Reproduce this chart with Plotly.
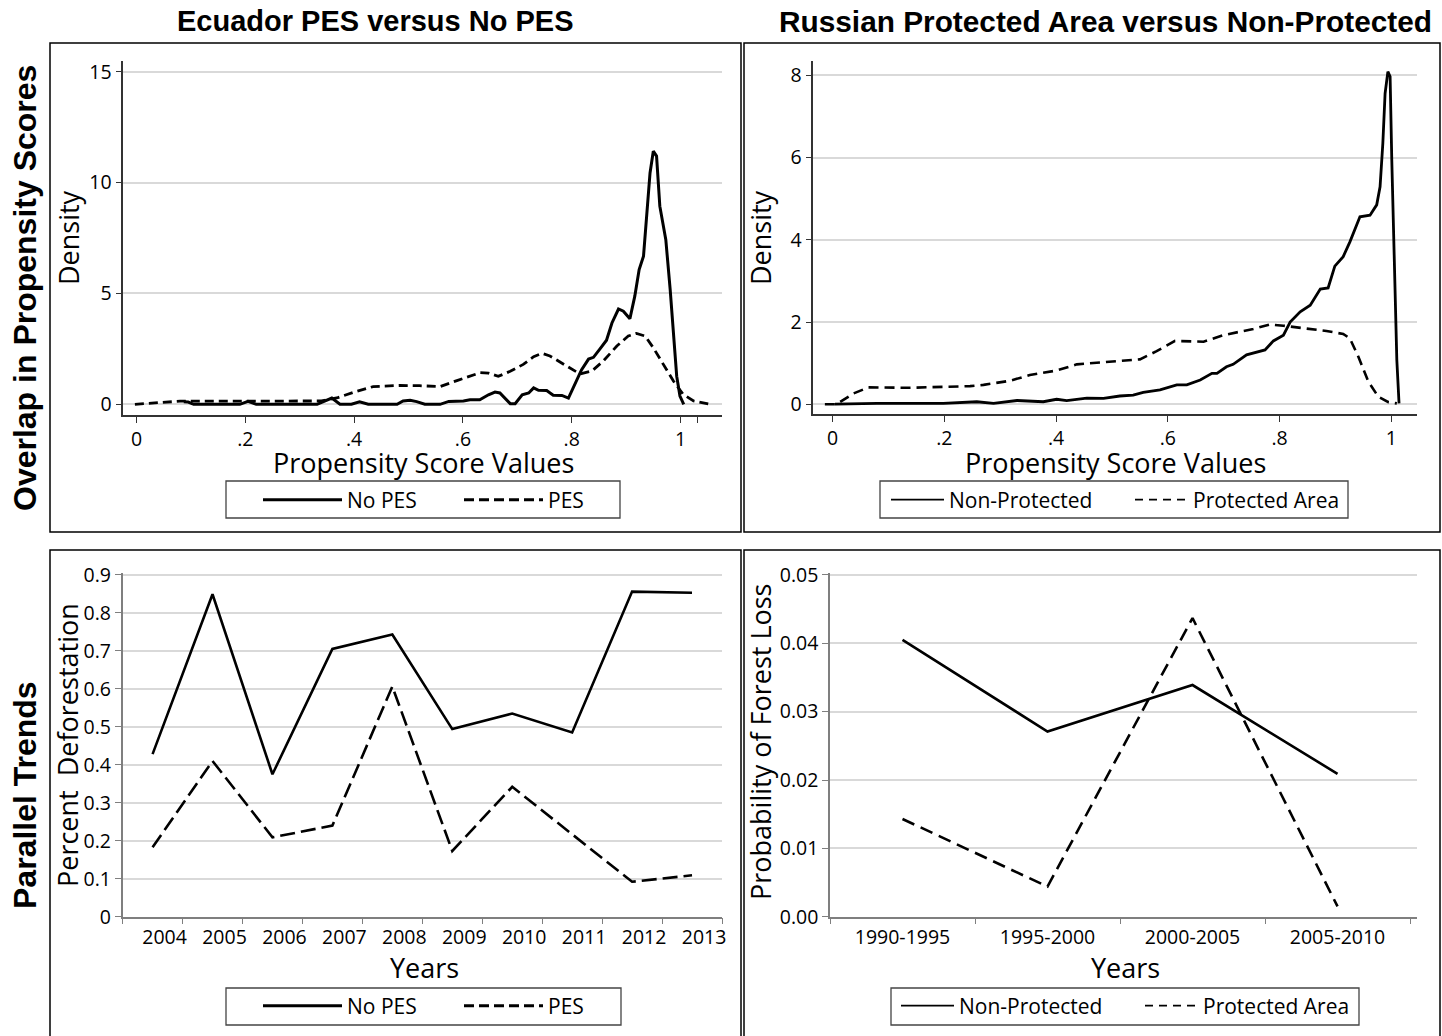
import plotly.graph_objects as go

W, H = 1442, 1036

# ---------------- Data ----------------
# Panel 1: Ecuador propensity score densities
ecu_nopes_x = [0.087, 0.095, 0.105, 0.19, 0.205, 0.22, 0.332, 0.359, 0.374, 0.395, 0.41, 0.426,
               0.479, 0.49, 0.503, 0.515, 0.530, 0.558, 0.574, 0.601, 0.613, 0.631, 0.647, 0.659,
               0.668, 0.687, 0.696, 0.709, 0.721, 0.730, 0.739, 0.754, 0.766, 0.782, 0.794, 0.806,
               0.818, 0.831, 0.840, 0.852, 0.864, 0.874, 0.886, 0.895, 0.907, 0.916, 0.924, 0.932,
               0.938, 0.944, 0.950, 0.956, 0.962, 0.973, 0.981, 0.987, 0.993, 0.999, 1.006]
ecu_nopes_y = [0.12, 0.10, 0.0, 0.0, 0.13, 0.0, 0.0, 0.28, 0.0, 0.0, 0.11, 0.0,
               0.0, 0.15, 0.18, 0.12, 0.0, 0.0, 0.13, 0.15, 0.20, 0.20, 0.43, 0.55,
               0.51, 0.03, 0.03, 0.43, 0.51, 0.74, 0.63, 0.62, 0.41, 0.40, 0.28, 0.95,
               1.55, 2.04, 2.12, 2.50, 2.89, 3.67, 4.30, 4.20, 3.86, 4.88, 6.08, 6.68,
               8.64, 10.44, 11.42, 11.20, 8.94, 7.43, 5.18, 3.07, 1.27, 0.37, 0.0]
ecu_pes_x = [-0.003, 0.04, 0.08, 0.12, 0.20, 0.25, 0.30, 0.34, 0.37, 0.40, 0.435, 0.484, 0.52,
             0.558, 0.589, 0.632, 0.647, 0.665, 0.687, 0.711, 0.730, 0.745, 0.760, 0.785, 0.815,
             0.837, 0.858, 0.883, 0.904, 0.919, 0.935, 0.950, 0.968, 0.987, 1.005, 1.024, 1.054]
ecu_pes_y = [0.0, 0.07, 0.14, 0.14, 0.15, 0.15, 0.14, 0.15, 0.30, 0.55, 0.80, 0.85, 0.84,
             0.80, 1.07, 1.43, 1.41, 1.26, 1.49, 1.80, 2.15, 2.30, 2.18, 1.80, 1.37,
             1.50, 1.95, 2.63, 3.08, 3.20, 3.08, 2.55, 1.80, 1.05, 0.45, 0.15, 0.0]

# Panel 2: Russia propensity score densities
rus_non_x = [0.004, 0.079, 0.198, 0.258, 0.288, 0.33, 0.377, 0.401, 0.419, 0.455, 0.485, 0.514,
             0.538, 0.556, 0.586, 0.616, 0.634, 0.658, 0.679, 0.688, 0.705, 0.717, 0.741, 0.759,
             0.774, 0.789, 0.807, 0.819, 0.837, 0.855, 0.873, 0.887, 0.899, 0.914, 0.926, 0.944,
             0.962, 0.974, 0.980, 0.985, 0.989, 0.994, 0.998, 1.001, 1.005, 1.010, 1.014]
rus_non_y = [0.0, 0.02, 0.02, 0.06, 0.02, 0.09, 0.06, 0.12, 0.09, 0.15, 0.14, 0.20,
             0.22, 0.29, 0.35, 0.47, 0.47, 0.59, 0.75, 0.75, 0.91, 0.97, 1.20, 1.26,
             1.32, 1.54, 1.68, 2.00, 2.25, 2.41, 2.80, 2.83, 3.36, 3.59, 3.95, 4.56,
             4.60, 4.85, 5.29, 6.35, 7.56, 8.09, 7.97, 5.94, 3.51, 1.08, 0.02]
rus_pa_x = [-0.014, 0.007, 0.037, 0.064, 0.138, 0.246, 0.270, 0.317, 0.353, 0.401, 0.437, 0.496,
            0.532, 0.55, 0.58, 0.613, 0.664, 0.699, 0.753, 0.783, 0.807, 0.843, 0.884, 0.914,
            0.926, 0.941, 0.959, 0.977, 0.995, 1.01]
rus_pa_y = [0.0, 0.0, 0.26, 0.41, 0.40, 0.44, 0.47, 0.57, 0.71, 0.82, 0.97, 1.03,
            1.06, 1.09, 1.29, 1.54, 1.52, 1.68, 1.83, 1.94, 1.91, 1.85, 1.78, 1.71,
            1.60, 1.16, 0.55, 0.18, 0.05, 0.02]

# Panel 3: Ecuador parallel trends
years = ["2004", "2005", "2006", "2007", "2008", "2009", "2010", "2011", "2012", "2013"]
nopes_defor = [0.428, 0.849, 0.375, 0.705, 0.743, 0.494, 0.535, 0.485, 0.856, 0.853]
pes_defor = [0.183, 0.410, 0.209, 0.240, 0.606, 0.173, 0.342, 0.217, 0.092, 0.109]

# Panel 4: Russia parallel trends
periods = ["1990-1995", "1995-2000", "2000-2005", "2005-2010"]
nonprot_loss = [0.0405, 0.0271, 0.0339, 0.0209]
prot_loss = [0.0143, 0.0044, 0.0437, 0.0015]

# ---------------- Style helpers ----------------
FONT = "Open Sans, Lato, sans-serif"
BOLD = "Liberation Sans, Arial, sans-serif"
GRID = "#d9d9d9"


def fx(p):
    return p / W


def fy(p):
    return 1 - p / H


fig = go.Figure()

# Panel 1 traces
fig.add_trace(go.Scatter(x=ecu_nopes_x, y=ecu_nopes_y, mode="lines", showlegend=False,
                         line=dict(color="black", width=3), xaxis="x", yaxis="y"))
fig.add_trace(go.Scatter(x=ecu_pes_x, y=ecu_pes_y, mode="lines", showlegend=False,
                         line=dict(color="black", width=2.8, dash="9px,5px"), xaxis="x", yaxis="y"))
# Panel 2 traces
fig.add_trace(go.Scatter(x=rus_non_x, y=rus_non_y, mode="lines", showlegend=False,
                         line=dict(color="black", width=2.8), xaxis="x2", yaxis="y2"))
fig.add_trace(go.Scatter(x=rus_pa_x, y=rus_pa_y, mode="lines", showlegend=False,
                         line=dict(color="black", width=2.6, dash="10px,6px"), xaxis="x2", yaxis="y2"))
# Panel 3 traces
idx3 = list(range(len(years)))
fig.add_trace(go.Scatter(x=idx3, y=nopes_defor, mode="lines", showlegend=False,
                         line=dict(color="black", width=2.6), xaxis="x3", yaxis="y3"))
fig.add_trace(go.Scatter(x=idx3, y=pes_defor, mode="lines", showlegend=False,
                         line=dict(color="black", width=2.6, dash="15px,6px"), xaxis="x3", yaxis="y3"))
# Panel 4 traces
idx4 = list(range(len(periods)))
fig.add_trace(go.Scatter(x=idx4, y=nonprot_loss, mode="lines", showlegend=False,
                         line=dict(color="black", width=2.6), xaxis="x4", yaxis="y4"))
fig.add_trace(go.Scatter(x=idx4, y=prot_loss, mode="lines", showlegend=False,
                         line=dict(color="black", width=2.6, dash="13px,7px"), xaxis="x4", yaxis="y4"))

# Legend entries
def leg(name, legend, width, dash, xa, ya):
    fig.add_trace(go.Scatter(x=[None], y=[None], mode="lines", name=name, legend=legend,
                             line=dict(color="black", width=width, dash=dash), xaxis=xa, yaxis=ya))

leg("No PES", "legend", 3, "solid", "x", "y")
leg("PES", "legend", 3, "10px,5px", "x", "y")
leg("Non-Protected", "legend2", 1.6, "solid", "x2", "y2")
leg("Protected Area", "legend2", 1.6, "8px,6px", "x2", "y2")
leg("No PES", "legend3", 3, "solid", "x3", "y3")
leg("PES", "legend3", 3, "10px,5px", "x3", "y3")
leg("Non-Protected", "legend4", 1.6, "solid", "x4", "y4")
leg("Protected Area", "legend4", 1.6, "8px,6px", "x4", "y4")

tickfont = dict(family=FONT, size=19.5, color="black")
AX1 = "#333333"
AX3 = "#7f7f7f"

common_x = dict(showline=True, linewidth=1.5, ticks="outside", ticklen=6, tickwidth=1.3,
                showgrid=False, zeroline=False, tickfont=tickfont, fixedrange=True)
common_y = dict(showline=True, linewidth=1.5, ticks="outside", ticklen=6, tickwidth=1.3,
                showgrid=True, gridcolor=GRID, gridwidth=1.5, zeroline=False,
                tickfont=tickfont, fixedrange=True)

legend_common = dict(orientation="h", bgcolor="rgba(0,0,0,0)", borderwidth=0,
                     xanchor="left", yanchor="middle", tracegroupgap=0,
                     itemclick=False, itemdoubleclick=False, entrywidthmode="pixels")

fig.update_layout(
    width=W, height=H, margin=dict(l=0, r=0, t=0, b=0, autoexpand=False),
    paper_bgcolor="white", plot_bgcolor="white",
    xaxis=dict(common_x, domain=[fx(123.3), fx(722)], range=[-0.0243, 1.0763], anchor="y",
               linecolor=AX1, tickcolor=AX1,
               tickvals=[0, 0.2, 0.4, 0.6, 0.8, 1, 1.032],
               ticktext=["0", ".2", ".4", ".6", ".8", "1", ""]),
    yaxis=dict(common_y, domain=[fy(415), fy(61)], range=[-0.483, 15.49], anchor="x",
               linecolor=AX1, tickcolor=AX1, tickvals=[0, 5, 10, 15]),
    xaxis2=dict(common_x, domain=[fx(813.3), fx(1416.7)], range=[-0.0347, 1.0456], anchor="y2",
                linecolor=AX1, tickcolor=AX1,
                tickvals=[0, 0.2, 0.4, 0.6, 0.8, 1],
                ticktext=["0", ".2", ".4", ".6", ".8", "1"]),
    yaxis2=dict(common_y, domain=[fy(414), fy(61)], range=[-0.238, 8.35], anchor="x2",
                linecolor=AX1, tickcolor=AX1, tickvals=[0, 2, 4, 6, 8]),
    xaxis3=dict(common_x, domain=[fx(122.6), fx(722)], range=[-0.5, 9.5], anchor="y3",
                linecolor=AX3, tickcolor="rgba(0,0,0,0)", ticklen=2,
                tickvals=idx3, ticktext=years, ticklabelshift=12,
                minor=dict(tickvals=[i - 0.5 for i in range(len(years) + 1)], ticks="outside",
                           ticklen=6, tickcolor=AX3, tickwidth=1.3, showgrid=False)),
    yaxis3=dict(common_y, domain=[fy(916.7), fy(573)], range=[0, 0.905], anchor="x3",
                linecolor=AX3, tickcolor=AX3, tickvals=[0, 0.1, 0.2, 0.3, 0.4, 0.5, 0.6, 0.7, 0.8, 0.9],
                ticktext=["0", "0.1", "0.2", "0.3", "0.4", "0.5", "0.6", "0.7", "0.8", "0.9"]),
    xaxis4=dict(common_x, domain=[fx(830), fx(1416.7)], range=[-0.5, 3.546], anchor="y4",
                linecolor=AX3, tickcolor="rgba(0,0,0,0)", ticklen=2,
                tickvals=idx4, ticktext=periods,
                minor=dict(tickvals=[i - 0.5 for i in range(len(periods) + 1)], ticks="outside",
                           ticklen=6, tickcolor=AX3, tickwidth=1.3, showgrid=False)),
    yaxis4=dict(common_y, domain=[fy(916.7), fy(573)], range=[0, 0.05029], anchor="x4",
                linecolor=AX3, tickcolor=AX3, tickvals=[0, 0.01, 0.02, 0.03, 0.04, 0.05],
                tickformat=".2f"),
    legend=dict(legend_common, x=fx(258), y=fy(500), itemwidth=79, entrywidth=107,
                font=dict(family=FONT, size=21, color="black")),
    legend2=dict(legend_common, x=fx(886), y=fy(500), itemwidth=53, entrywidth=176,
                 font=dict(family=FONT, size=21, color="black")),
    legend3=dict(legend_common, x=fx(258), y=fy(1006), itemwidth=79, entrywidth=107,
                 font=dict(family=FONT, size=21, color="black")),
    legend4=dict(legend_common, x=fx(896), y=fy(1006), itemwidth=53, entrywidth=176,
                 font=dict(family=FONT, size=21, color="black")),
)

# Panel frames and legend boxes
shapes = []
for (x0, y0, x1, y1) in [(50, 43, 741, 532), (744, 43, 1440, 532),
                         (50, 550, 741, 1050), (744, 550, 1440, 1050)]:
    shapes.append(dict(type="rect", xref="paper", yref="paper", x0=fx(x0), x1=fx(x1),
                       y0=fy(y1), y1=fy(y0), line=dict(color="black", width=1.5)))
for (x0, y0, x1, y1) in [(226, 481, 620, 518), (880, 481, 1348, 518),
                         (226, 988, 621, 1025), (891, 988, 1359, 1025)]:
    shapes.append(dict(type="rect", xref="paper", yref="paper", x0=fx(x0), x1=fx(x1),
                       y0=fy(y1), y1=fy(y0), line=dict(color="#444444", width=1.3)))
fig.update_layout(shapes=shapes)

# Titles, row labels and axis titles
TF = dict(family=FONT, size=27, color="black")
ann = [
    dict(text="<b>Ecuador PES versus No PES</b>", x=375, y=21, font=dict(family=BOLD, size=29, color="black")),
    dict(text="<b>Russian Protected Area versus Non-Protected</b>", x=1105, y=21, font=dict(family=BOLD, size=29.8, color="black")),
    dict(text="<b>Overlap in Propensity Scores</b>", x=25, y=288, textangle=-90, font=dict(family=BOLD, size=32, color="black")),
    dict(text="<b>Parallel Trends</b>", x=25, y=795, textangle=-90, font=dict(family=BOLD, size=32, color="black")),
    dict(text="Density", x=69, y=238, textangle=-90, font=TF),
    dict(text="Propensity Score Values", x=423, y=462, font=TF),
    dict(text="Density", x=761, y=238, textangle=-90, font=TF),
    dict(text="Propensity Score Values", x=1115, y=462, font=TF),
    dict(text="Percent\u00a0 Deforestation", x=67, y=745, textangle=-90, font=TF),
    dict(text="Years", x=424, y=967, font=TF),
    dict(text="Probability of Forest Loss", x=760, y=742, textangle=-90, font=TF),
    dict(text="Years", x=1125, y=967, font=TF),
]
for a in ann:
    a.update(xref="paper", yref="paper", showarrow=False, xanchor="center", yanchor="middle",
             x=fx(a["x"]), y=fy(a["y"]))
fig.update_layout(annotations=ann)

fig.write_html("out.html", config={"displayModeBar": False},
               post_script="document.body.style.margin='0';document.body.style.overflow='hidden';")
